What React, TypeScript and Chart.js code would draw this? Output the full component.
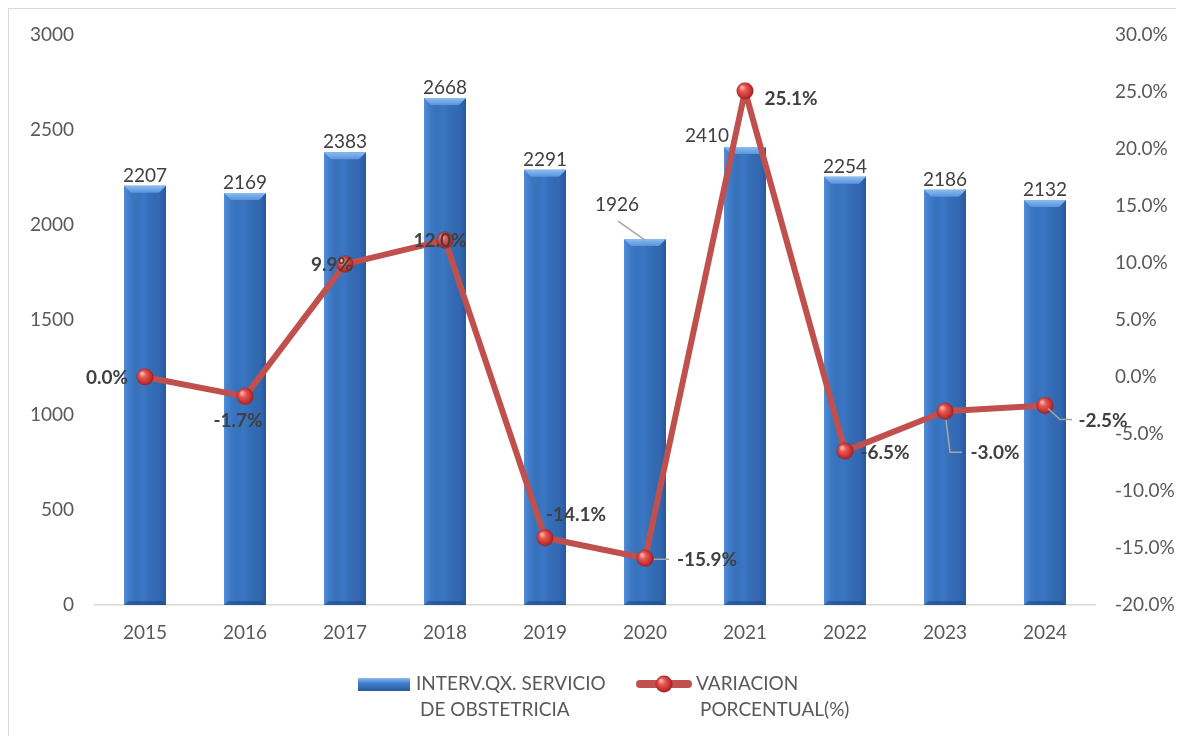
import React, { useEffect, useRef } from "react";
import { Chart, registerables } from "chart.js";

Chart.register(...registerables);

const years = ["2015", "2016", "2017", "2018", "2019", "2020", "2021", "2022", "2023", "2024"];
const interventions = [2207, 2169, 2383, 2668, 2291, 1926, 2410, 2254, 2186, 2132];
const variation = [0.0, -1.7, 9.9, 12.0, -14.1, -15.9, 25.1, -6.5, -3.0, -2.5];
const leftAxis = { min: 0, max: 3000, step: 500 };
const rightAxis = { min: -20, max: 30, step: 5 };
const barSeriesName = ["INTERV.QX. SERVICIO", "DE OBSTETRICIA"];
const lineSeriesName = ["VARIACION", "PORCENTUAL(%)"];

// label placement (offsets from the mark, in px)
const barLabelOffsets: [number, number][] = [
  [0, -10], [0, -10], [0, -10], [0, -10], [0, -10], [-28, -34], [-38, -11], [0, -10], [0, -10], [0, -10],
];
const lineLabelOffsets: [number, number][] = [
  [-38, 1], [-7, 24], [-13, 1], [-5, 1], [31, -23], [62, 2], [46, 8], [40, 2], [50, 42], [58, 15],
];
const barLeaders: Record<number, [number, number][]> = { 5: [[-27, -18], [0, 1]] };
const lineLeaders: Record<number, [number, number][]> = {
  5: [[9, 1], [24, 1]],
  8: [[1, 9], [5, 41], [17, 41]],
  9: [[3, 3], [15, 14], [27, 14]],
};

const FONT = "Lato, 'Open Sans', 'DejaVu Sans', sans-serif";
const TICK_COLOR = "#595959";
const LABEL_COLOR = "#404040";
const FS = 19;

function makeSphere(size: number): HTMLCanvasElement {
  const c = document.createElement("canvas");
  c.width = size;
  c.height = size;
  const g = c.getContext("2d")!;
  const r = size / 2;
  const grad = g.createRadialGradient(r - r * 0.35, r - r * 0.4, r * 0.1, r, r, r);
  grad.addColorStop(0, "#ffb0a8");
  grad.addColorStop(0.3, "#e65a55");
  grad.addColorStop(0.75, "#c43030");
  grad.addColorStop(1, "#8e1e1e");
  g.fillStyle = grad;
  g.beginPath();
  g.arc(r, r, r - 0.5, 0, Math.PI * 2);
  g.fill();
  return c;
}

const ok = (...v: number[]) => v.every((n) => Number.isFinite(n));

const decorPlugin = {
  id: "decor",
  afterDatasetDraw(chart: any, args: any) {
    if (args.index !== 0) return;
    const ctx = chart.ctx;
    const meta = chart.getDatasetMeta(0);
    meta.data.forEach((bar: any) => {
      const w = bar.width;
      const l = bar.x - w / 2;
      const r = bar.x + w / 2;
      const t = bar.y;
      const b = bar.base;
      if (!ok(w, l, r, t, b)) return;
      ctx.save();
      const hg = ctx.createLinearGradient(l, 0, r, 0);
      hg.addColorStop(0, "rgba(110,165,235,0.5)");
      hg.addColorStop(0.12, "rgba(90,150,225,0.2)");
      hg.addColorStop(0.45, "rgba(0,0,0,0)");
      hg.addColorStop(0.85, "rgba(20,50,110,0.22)");
      hg.addColorStop(1, "rgba(20,50,110,0.45)");
      ctx.fillStyle = hg;
      ctx.fillRect(l, t, w, b - t);
      const bv = 7;
      const tg = ctx.createLinearGradient(0, t, 0, t + bv);
      tg.addColorStop(0, "#8cbcf0");
      tg.addColorStop(1, "#5a94dc");
      ctx.fillStyle = tg;
      ctx.beginPath();
      ctx.moveTo(l, t);
      ctx.lineTo(r, t);
      ctx.lineTo(r - bv, t + bv);
      ctx.lineTo(l + bv, t + bv);
      ctx.closePath();
      ctx.fill();
      ctx.fillStyle = "rgba(25,60,120,0.45)";
      ctx.beginPath();
      ctx.moveTo(l, b);
      ctx.lineTo(r, b);
      ctx.lineTo(r - 4, b - 4);
      ctx.lineTo(l + 4, b - 4);
      ctx.closePath();
      ctx.fill();
      ctx.restore();
    });
  },
  afterDraw(chart: any) {
    const ctx = chart.ctx;
    const barMeta = chart.getDatasetMeta(0);
    const lineMeta = chart.getDatasetMeta(1);
    ctx.save();
    ctx.strokeStyle = "#a6a6a6";
    ctx.lineWidth = 1.5;
    const drawLeader = (x: number, y: number, pts: [number, number][]) => {
      ctx.beginPath();
      pts.forEach(([dx, dy], i) => (i === 0 ? ctx.moveTo(x + dx, y + dy) : ctx.lineTo(x + dx, y + dy)));
      ctx.stroke();
    };
    ctx.textAlign = "center";
    ctx.textBaseline = "middle";
    ctx.font = `${FS}px ${FONT}`;
    ctx.fillStyle = LABEL_COLOR;
    barMeta.data.forEach((bar: any, i: number) => {
      if (!ok(bar.x, bar.y)) return;
      if (barLeaders[i]) drawLeader(bar.x, bar.y, barLeaders[i]);
      const [dx, dy] = barLabelOffsets[i];
      ctx.fillText(String(interventions[i]), bar.x + dx, bar.y + dy);
    });
    ctx.font = `bold ${FS}px ${FONT}`;
    lineMeta.data.forEach((pt: any, i: number) => {
      if (!ok(pt.x, pt.y)) return;
      if (lineLeaders[i]) drawLeader(pt.x, pt.y, lineLeaders[i]);
      const [dx, dy] = lineLabelOffsets[i];
      ctx.fillStyle = LABEL_COLOR;
      ctx.fillText(variation[i].toFixed(1) + "%", pt.x + dx, pt.y + dy);
    });
    // legend
    ctx.font = `${FS}px ${FONT}`;
    ctx.textAlign = "left";
    const lg = ctx.createLinearGradient(0, 669, 0, 682);
    lg.addColorStop(0, "#8cbcf0");
    lg.addColorStop(0.4, "#3f7fcc");
    lg.addColorStop(1, "#2a5aa0");
    ctx.fillStyle = lg;
    ctx.fillRect(349, 669, 52, 13);
    ctx.fillStyle = TICK_COLOR;
    ctx.fillText(barSeriesName[0], 407, 675);
    ctx.fillText(barSeriesName[1], 411, 701);
    ctx.strokeStyle = "#c0504d";
    ctx.lineWidth = 8;
    ctx.lineCap = "round";
    ctx.beginPath();
    ctx.moveTo(631, 675);
    ctx.lineTo(679, 675);
    ctx.stroke();
    if (chart.$sphere) ctx.drawImage(chart.$sphere, 655 - 9, 675 - 9, 18, 18);
    ctx.fillStyle = TICK_COLOR;
    ctx.fillText(lineSeriesName[0], 687, 675);
    ctx.fillText(lineSeriesName[1], 691, 701);
    ctx.restore();
  },
};

const fitVertical = (width: number) => (s: any) => {
  s.width = width;
  s.paddingTop = 0;
  s.paddingBottom = 0;
};

export default function App() {
  const ref = useRef<HTMLCanvasElement>(null);
  useEffect(() => {
    const sphere = makeSphere(18);
    const chart: any = new Chart(ref.current!, {
      type: "bar",
      data: {
        labels: years,
        datasets: [
          {
            type: "bar",
            label: barSeriesName.join(" "),
            data: interventions,
            yAxisID: "y",
            backgroundColor: "#3a77c5",
            borderWidth: 0,
            barPercentage: 0.84,
            categoryPercentage: 0.5,
            order: 1,
          } as any,
          {
            type: "line",
            label: lineSeriesName.join(" "),
            data: variation,
            yAxisID: "y1",
            borderColor: "#c0504d",
            borderWidth: 6,
            borderJoinStyle: "round",
            borderCapStyle: "round",
            pointStyle: sphere as any,
            pointRadius: 9,
            tension: 0,
            order: 0,
          } as any,
        ],
      },
      options: {
        responsive: false,
        animation: false,
        devicePixelRatio: 1,
        layout: { padding: { top: 26, left: 0, right: 0, bottom: 0 } },
        plugins: { legend: { display: false }, tooltip: { enabled: false } },
        scales: {
          x: {
            grid: { display: false },
            border: { display: true, color: "#d9d9d9", width: 1.5 },
            ticks: { color: TICK_COLOR, font: { family: FONT, size: FS }, padding: 8 },
            afterFit: (s: any) => { s.height = 131; },
          },
          y: {
            position: "left",
            min: leftAxis.min,
            max: leftAxis.max,
            grid: { display: false, drawTicks: false },
            border: { display: false },
            ticks: {
              stepSize: leftAxis.step,
              color: TICK_COLOR,
              font: { family: FONT, size: FS },
              padding: 21,
              callback: (v: any) => String(v),
            },
            afterFit: fitVertical(86),
          },
          y1: {
            position: "right",
            min: rightAxis.min,
            max: rightAxis.max,
            grid: { display: false, drawTicks: false },
            border: { display: false },
            ticks: {
              stepSize: rightAxis.step,
              color: TICK_COLOR,
              font: { family: FONT, size: FS },
              padding: 20,
              callback: (v: any) => Number(v).toFixed(1) + "%",
            },
            afterFit: fitVertical(81),
          },
        },
      } as any,
      plugins: [decorPlugin],
    });
    chart.$sphere = sphere;
    chart.draw();
    return () => chart.destroy();
  }, []);
  return (
    <div style={{ borderLeft: "1px solid #d9d9d9", borderTop: "1px solid #d9d9d9", width: 1167, height: 727 }}>
      <canvas ref={ref} width={1167} height={727} style={{ display: "block" }} />
    </div>
  );
}
